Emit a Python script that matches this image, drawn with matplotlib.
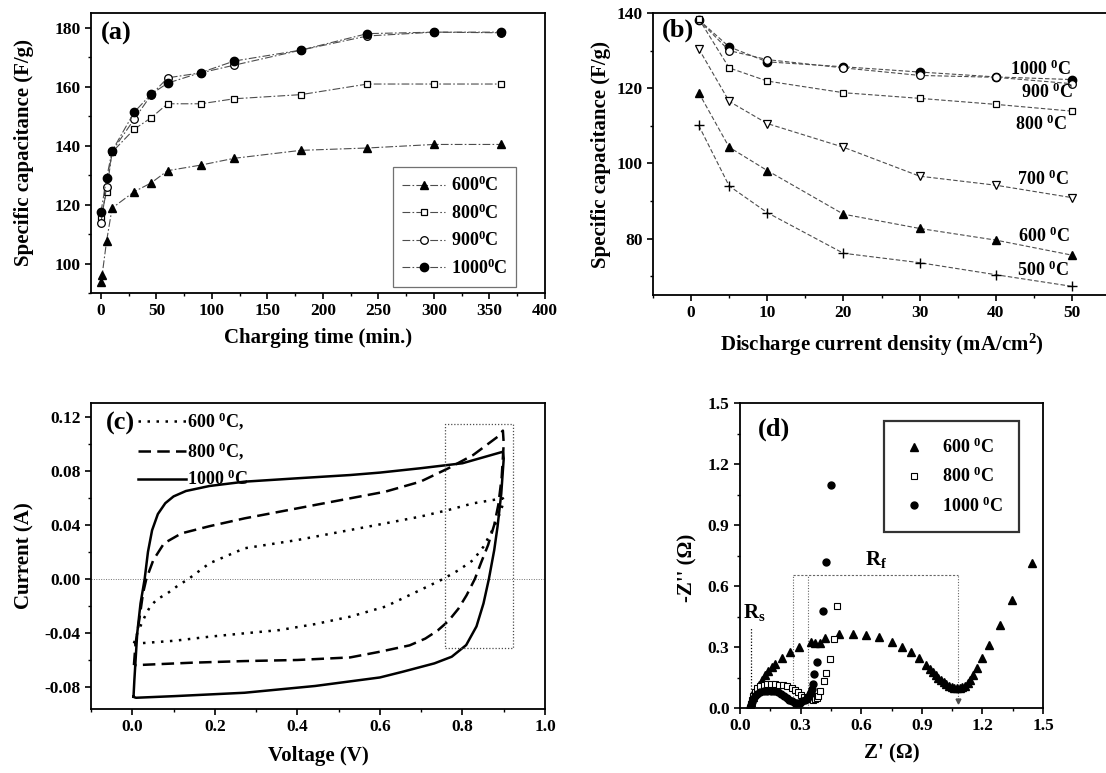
import matplotlib
matplotlib.use('Agg')
import matplotlib.pyplot as plt
from matplotlib.ticker import MultipleLocator

plt.rcParams['font.family'] = ['Liberation Serif', 'DejaVu Serif']
plt.rcParams['font.weight'] = 'bold'
plt.rcParams['axes.labelweight'] = 'bold'
plt.rcParams['mathtext.fontset'] = 'custom'
plt.rcParams['mathtext.rm'] = 'Liberation Serif:bold'
plt.rcParams['mathtext.bf'] = 'Liberation Serif:bold'
plt.rcParams['mathtext.it'] = 'Liberation Serif:bold'
plt.rcParams['axes.linewidth'] = 1.3

# ---------------- (a) data ----------------
time_600 = [0, 1, 5, 10, 30, 45, 60, 90, 120, 180, 240, 300, 360]
cap_600 = [93.8, 96.0, 107.5, 118.8, 124.4, 127.3, 131.5, 133.4, 135.7, 138.4, 139.2, 140.4, 140.4]
time_a = [0, 5, 10, 30, 45, 60, 90, 120, 180, 240, 300, 360]
cap_800 = [115.8, 124.4, 137.8, 145.6, 149.4, 154.2, 154.2, 155.9, 157.3, 160.9, 160.9, 160.9]
cap_900 = [113.9, 125.9, 138.1, 149.0, 157.1, 163.0, 164.7, 167.3, 172.4, 177.2, 178.5, 178.3]
cap_1000 = [117.5, 128.9, 138.2, 151.4, 157.4, 161.2, 164.8, 168.7, 172.4, 178.0, 178.5, 178.5]

# ---------------- (b) data ----------------
current_b = [1, 5, 10, 20, 30, 40, 50]
b_1000 = [138.2, 131.0, 127.0, 125.7, 124.3, 123.0, 122.3]
b_900 = [138.1, 130.0, 127.6, 125.4, 123.4, 122.9, 121.2]
b_800 = [138.5, 125.4, 121.9, 118.8, 117.3, 115.7, 113.9]
b_700 = [130.5, 116.5, 110.6, 104.3, 96.6, 94.2, 90.9]
b_600 = [118.8, 104.3, 98.1, 86.5, 82.7, 79.6, 75.6]
b_500 = [110.1, 94.0, 86.9, 76.1, 73.6, 70.4, 67.3]
b_labels = ['1000 $^{0}$C', '900 $^{0}$C', '800 $^{0}$C', '700 $^{0}$C', '600 $^{0}$C', '500 $^{0}$C']

# ---------------- (c) data ----------------
cv_v_600 = [0.004, 0.012, 0.021, 0.030, 0.043, 0.060, 0.085, 0.110, 0.136, 0.187, 0.272, 0.400, 0.528, 0.613,
            0.698, 0.766, 0.826, 0.898, 0.900, 0.890, 0.877, 0.851, 0.826, 0.791, 0.753, 0.698, 0.613, 0.528,
            0.443, 0.357, 0.272, 0.187, 0.102, 0.017, 0.004]
cv_i_600 = [-0.0475, -0.040, -0.034, -0.028, -0.0204, -0.015, -0.0106, -0.005, 0.0, 0.0116, 0.0227, 0.0288,
            0.0362, 0.0411, 0.0461, 0.0510, 0.0559, 0.0596, 0.057, 0.048, 0.0387, 0.0239, 0.014, 0.0066, 0.0,
            -0.0081, -0.0204, -0.0278, -0.0333, -0.0377, -0.0401, -0.0426, -0.0456, -0.0475, -0.0475]
cv_v_800 = [0.004, 0.008, 0.017, 0.026, 0.034, 0.051, 0.077, 0.119, 0.187, 0.272, 0.400, 0.528, 0.613, 0.698,
            0.766, 0.826, 0.885, 0.898, 0.900, 0.895, 0.887, 0.877, 0.862, 0.845, 0.830, 0.810, 0.790, 0.766,
            0.740, 0.710, 0.672, 0.600, 0.528, 0.400, 0.272, 0.145, 0.017, 0.004]
cv_i_800 = [-0.0636, -0.0475, -0.030, -0.0106, 0.0, 0.014, 0.0264, 0.0337, 0.039, 0.0448, 0.0522, 0.0596,
            0.0645, 0.0719, 0.0818, 0.0916, 0.105, 0.1096, 0.100, 0.075, 0.055, 0.040, 0.025, 0.012, 0.0,
            -0.012, -0.022, -0.031, -0.038, -0.044, -0.049, -0.0537, -0.0579, -0.0598, -0.0606, -0.0618,
            -0.0635, -0.0636]
cv_v_1000 = [0.003, 0.005, 0.008, 0.012, 0.020, 0.030, 0.038, 0.048, 0.062, 0.080, 0.100, 0.130, 0.187, 0.272,
             0.400, 0.528, 0.600, 0.698, 0.800, 0.898, 0.900, 0.894, 0.885, 0.877, 0.864, 0.851, 0.834, 0.809,
             0.774, 0.732, 0.655, 0.600, 0.443, 0.272, 0.102, 0.009, 0.003]
cv_i_1000 = [-0.087, -0.075, -0.060, -0.040, -0.018, 0.0, 0.020, 0.036, 0.048, 0.056, 0.061, 0.065, 0.0687,
             0.0719, 0.0744, 0.0768, 0.0786, 0.0818, 0.0855, 0.094, 0.089, 0.063, 0.0387, 0.0214, 0.0, -0.018,
             -0.035, -0.0488, -0.0574, -0.0623, -0.0685, -0.0727, -0.079, -0.084, -0.0865, -0.0877, -0.087]

# ---------------- (d) data ----------------
z_re_600 = [0.050, 0.055, 0.062, 0.070, 0.080, 0.092, 0.107, 0.122, 0.140, 0.157, 0.175, 0.206, 0.247, 0.290,
            0.350, 0.372, 0.396, 0.420, 0.490, 0.560, 0.625, 0.688, 0.750, 0.800, 0.846, 0.884, 0.920, 0.940,
            0.955, 0.968, 0.982, 0.995, 1.008, 1.021, 1.035, 1.048, 1.060, 1.074, 1.087, 1.100, 1.113, 1.127,
            1.140, 1.153, 1.174, 1.197, 1.232, 1.285, 1.347, 1.444]
z_im_600 = [0.000, 0.030, 0.055, 0.075, 0.095, 0.115, 0.140, 0.160, 0.180, 0.200, 0.218, 0.246, 0.275, 0.300,
            0.325, 0.322, 0.322, 0.345, 0.366, 0.366, 0.358, 0.348, 0.325, 0.300, 0.274, 0.246, 0.213, 0.192,
            0.175, 0.162, 0.148, 0.136, 0.126, 0.118, 0.110, 0.104, 0.099, 0.096, 0.097, 0.101, 0.110, 0.124,
            0.140, 0.160, 0.197, 0.246, 0.311, 0.407, 0.533, 0.713]
z_re_800 = [0.050, 0.053, 0.057, 0.063, 0.072, 0.085, 0.100, 0.118, 0.136, 0.155, 0.175, 0.195, 0.215, 0.235,
            0.255, 0.272, 0.288, 0.302, 0.316, 0.330, 0.345, 0.360, 0.372, 0.380, 0.387, 0.396, 0.414, 0.428,
            0.444, 0.463, 0.479]
z_im_800 = [0.000, 0.020, 0.040, 0.060, 0.080, 0.097, 0.108, 0.115, 0.118, 0.118, 0.117, 0.115, 0.112, 0.107,
            0.100, 0.090, 0.078, 0.066, 0.056, 0.048, 0.042, 0.040, 0.042, 0.050, 0.060, 0.085, 0.134, 0.172,
            0.241, 0.341, 0.500]
z_re_1000 = [0.050, 0.053, 0.057, 0.063, 0.072, 0.085, 0.100, 0.117, 0.135, 0.153, 0.170, 0.187, 0.203, 0.218,
             0.232, 0.245, 0.258, 0.270, 0.283, 0.296, 0.308, 0.320, 0.330, 0.338, 0.345, 0.350, 0.355, 0.360,
             0.366, 0.382, 0.412, 0.428, 0.452]
z_im_1000 = [0.000, 0.015, 0.030, 0.045, 0.058, 0.070, 0.078, 0.083, 0.085, 0.085, 0.082, 0.077, 0.070, 0.060,
             0.050, 0.040, 0.032, 0.027, 0.025, 0.027, 0.032, 0.038, 0.045, 0.055, 0.068, 0.080, 0.095, 0.120,
             0.169, 0.226, 0.478, 0.716, 1.098]
rs_value = 0.052
rf_left = [0.26, 0.338]
rf_right = 1.078
rf_height = 0.655

fig = plt.figure(figsize=(11.06, 7.73), dpi=100)
W, H = 1106.0, 773.0


def axes_px(l, r, t, b):
    return fig.add_axes([l / W, 1 - b / H, (r - l) / W, (b - t) / H])


def style(ax, fs=12.5):
    ax.tick_params(which='major', direction='out', length=4.5, width=1.2, labelsize=fs, pad=3)
    ax.tick_params(which='minor', direction='out', length=2.5, width=1.0)
    ax.tick_params(top=False, right=False)
    for lab in ax.get_xticklabels() + ax.get_yticklabels():
        lab.set_fontweight('bold')


ls_dd = (0, (7, 2, 1.5, 2))
deg = '$^{0}$C'

# ================= (a) =================
axA = axes_px(91, 545, 13, 293)
axA.plot(time_600, cap_600, color='0.3', lw=0.8, ls=ls_dd, marker='^', ms=6, mfc='black', mec='black',
         label='600' + deg)
axA.plot(time_a, cap_800, color='0.3', lw=0.8, ls=ls_dd, marker='s', ms=5, mfc='white', mec='black',
         mew=0.9, label='800' + deg)
axA.plot(time_a, cap_900, color='0.3', lw=0.8, ls=ls_dd, marker='o', ms=5.5, mfc='white', mec='black',
         mew=0.9, label='900' + deg)
axA.plot(time_a, cap_1000, color='0.3', lw=0.8, ls=ls_dd, marker='o', ms=6, mfc='black', mec='black',
         label='1000' + deg)
axA.set_xlim(-9, 400)
axA.set_ylim(90, 185)
axA.xaxis.set_major_locator(MultipleLocator(50))
axA.xaxis.set_minor_locator(MultipleLocator(25))
axA.yaxis.set_major_locator(MultipleLocator(20))
axA.yaxis.set_minor_locator(MultipleLocator(10))
axA.set_yticks([100, 120, 140, 160, 180])
style(axA)
axA.set_xlabel('Charging time (min.)', fontsize=15)
axA.set_ylabel('Specific capacitance (F/g)', fontsize=15)
axA.xaxis.set_label_coords(0.5, -0.125)
axA.yaxis.set_label_coords(-0.125, 0.5)
axA.text(0.0, 178, '(a)', fontsize=19, fontweight='bold', va='center', ha='left')
legA = axA.legend(loc='lower left', bbox_to_anchor=(0.665, 0.022), borderaxespad=0, fontsize=13,
                  frameon=True, fancybox=False, edgecolor='0.3', handlelength=2.4, handletextpad=0.3,
                  labelspacing=0.45, borderpad=0.5)
legA.get_frame().set_linewidth(0.9)

# ================= (b) =================
axB = axes_px(653, 1110, 13, 295)
ls_d = (0, (4, 2))
axB.plot(current_b, b_1000, color='0.3', lw=0.8, ls=ls_d, marker='o', ms=6, mfc='black', mec='black')
axB.plot(current_b, b_900, color='0.3', lw=0.8, ls=ls_d, marker='o', ms=5.5, mfc='white', mec='black', mew=0.9)
axB.plot(current_b, b_800, color='0.3', lw=0.8, ls=ls_d, marker='s', ms=5, mfc='white', mec='black', mew=0.9)
axB.plot(current_b, b_700, color='0.3', lw=0.8, ls=ls_d, marker='v', ms=6, mfc='white', mec='black', mew=0.9)
axB.plot(current_b, b_600, color='0.3', lw=0.8, ls=ls_d, marker='^', ms=6, mfc='black', mec='black')
axB.plot(current_b, b_500, color='0.3', lw=0.8, ls=ls_d, marker='+', ms=6.5, mec='black', mew=1.0)
axB.set_xlim(-5, 55)
axB.set_ylim(65, 140)
axB.xaxis.set_major_locator(MultipleLocator(10))
axB.xaxis.set_minor_locator(MultipleLocator(5))
axB.yaxis.set_major_locator(MultipleLocator(20))
axB.yaxis.set_minor_locator(MultipleLocator(10))
axB.set_xticks([0, 10, 20, 30, 40, 50])
axB.set_yticks([80, 100, 120, 140])
style(axB)
axB.set_xlabel('Discharge current density (mA/cm$^{2}$)', fontsize=15)
axB.set_ylabel('Specific capacitance (F/g)', fontsize=15)
axB.xaxis.set_label_coords(0.5, -0.13)
axB.yaxis.set_label_coords(-0.092, 0.5)
axB.text(-3.8, 135.5, '(b)', fontsize=19, fontweight='bold', va='center', ha='left')
b_label_x = [45.9, 46.7, 46.0, 46.2, 46.3, 46.2]
b_label_y = [125.0, 118.8, 110.4, 95.8, 80.5, 71.7]
for tx, ty, tl in zip(b_label_x, b_label_y, b_labels):
    axB.text(tx, ty, tl, fontsize=13, fontweight='bold', ha='center', va='center')

# ================= (c) =================
axC = axes_px(91, 545, 403, 709)
axC.axhline(0, color='0.45', lw=0.7, ls=(0, (1, 1.5)))
axC.plot(cv_v_600, cv_i_600, color='black', lw=1.8, ls=(0, (1, 2.6)), label='600 ' + deg + ',')
axC.plot(cv_v_800, cv_i_800, color='black', lw=1.8, ls=(0, (5, 2.5)), label='800 ' + deg + ',')
axC.plot(cv_v_1000, cv_i_1000, color='black', lw=1.8, ls='-', label='1000 ' + deg)
box_v = [0.757, 0.923]
box_i = [-0.0512, 0.1145]
axC.plot([box_v[0], box_v[1], box_v[1], box_v[0], box_v[0]],
         [box_i[0], box_i[0], box_i[1], box_i[1], box_i[0]], color='0.3', lw=0.9, ls=(0, (1, 1.5)))
axC.set_xlim(-0.1, 1.0)
axC.set_ylim(-0.096, 0.13)
axC.xaxis.set_major_locator(MultipleLocator(0.2))
axC.xaxis.set_minor_locator(MultipleLocator(0.1))
axC.yaxis.set_major_locator(MultipleLocator(0.04))
axC.yaxis.set_minor_locator(MultipleLocator(0.02))
axC.set_xticks([0.0, 0.2, 0.4, 0.6, 0.8, 1.0])
axC.set_xticklabels(['0.0', '0.2', '0.4', '0.6', '0.8', '1.0'])
axC.set_yticks([-0.08, -0.04, 0.0, 0.04, 0.08, 0.12])
axC.set_yticklabels(['-0.08', '-0.04', '0.00', '0.04', '0.08', '0.12'])
style(axC)
axC.set_xlabel('Voltage (V)', fontsize=15)
axC.set_ylabel('Current (A)', fontsize=15)
axC.xaxis.set_label_coords(0.5, -0.12)
axC.yaxis.set_label_coords(-0.125, 0.5)
axC.text(-0.065, 0.115, '(c)', fontsize=19, fontweight='bold', va='center', ha='left')
legC = axC.legend(loc='upper left', bbox_to_anchor=(0.095, 0.99), borderaxespad=0, fontsize=13,
                  frameon=False, handlelength=2.7, handletextpad=0.05, labelspacing=0.45, borderpad=0.2)

# ================= (d) =================
axD = axes_px(740, 1043, 403, 708)
axD.plot([rs_value, rs_value], [0, 0.40], color='black', lw=0.9, ls=(0, (1, 1.5)))
for xl in rf_left:
    axD.plot([xl, xl], [0, rf_height], color='0.4', lw=0.8, ls=(0, (1, 1.5)))
axD.plot([rf_left[0], rf_right], [rf_height, rf_height], color='0.4', lw=0.8, ls=(0, (2, 1.5)))
axD.plot([rf_right, rf_right], [0.03, rf_height], color='0.4', lw=0.8, ls=(0, (1, 1.5)))
axD.plot([rf_right], [0.035], marker='v', ms=3.5, color='0.3', ls='none')
axD.plot(z_re_600, z_im_600, ls='none', marker='^', ms=5.5, mfc='black', mec='black', label='600 ' + deg)
axD.plot(z_re_800, z_im_800, ls='none', marker='s', ms=4.5, mfc='white', mec='black', mew=0.8,
         label='800 ' + deg)
axD.plot(z_re_1000, z_im_1000, ls='none', marker='o', ms=5, mfc='black', mec='black', label='1000 ' + deg)
axD.set_xlim(0, 1.5)
axD.set_ylim(0, 1.5)
axD.xaxis.set_major_locator(MultipleLocator(0.3))
axD.xaxis.set_minor_locator(MultipleLocator(0.15))
axD.yaxis.set_major_locator(MultipleLocator(0.3))
axD.yaxis.set_minor_locator(MultipleLocator(0.15))
axD.set_xticks([0.0, 0.3, 0.6, 0.9, 1.2, 1.5])
axD.set_xticklabels(['0.0', '0.3', '0.6', '0.9', '1.2', '1.5'])
axD.set_yticks([0.0, 0.3, 0.6, 0.9, 1.2, 1.5])
axD.set_yticklabels(['0.0', '0.3', '0.6', '0.9', '1.2', '1.5'])
style(axD)
axD.set_xlabel("Z' (\u03a9)", fontsize=15)
axD.set_ylabel("-Z'' (\u03a9)", fontsize=15)
axD.xaxis.set_label_coords(0.5, -0.115)
axD.yaxis.set_label_coords(-0.14, 0.46)
axD.text(0.09, 1.37, '(d)', fontsize=19, fontweight='bold', va='center', ha='left')
axD.text(0.015, 0.47, r'R$_\mathrm{s}$', fontsize=15, fontweight='bold', va='center', ha='left')
axD.text(0.62, 0.73, r'R$_\mathrm{f}$', fontsize=15, fontweight='bold', va='center', ha='left')
legD = axD.legend(loc='upper left', bbox_to_anchor=(0.475, 0.94), borderaxespad=0, fontsize=13,
                  frameon=True, fancybox=False, edgecolor='black', handlelength=1.5, handletextpad=0.8,
                  labelspacing=0.55, borderpad=0.9)
legD.get_frame().set_linewidth(1.6)

fig.savefig('out.png', dpi=100)
